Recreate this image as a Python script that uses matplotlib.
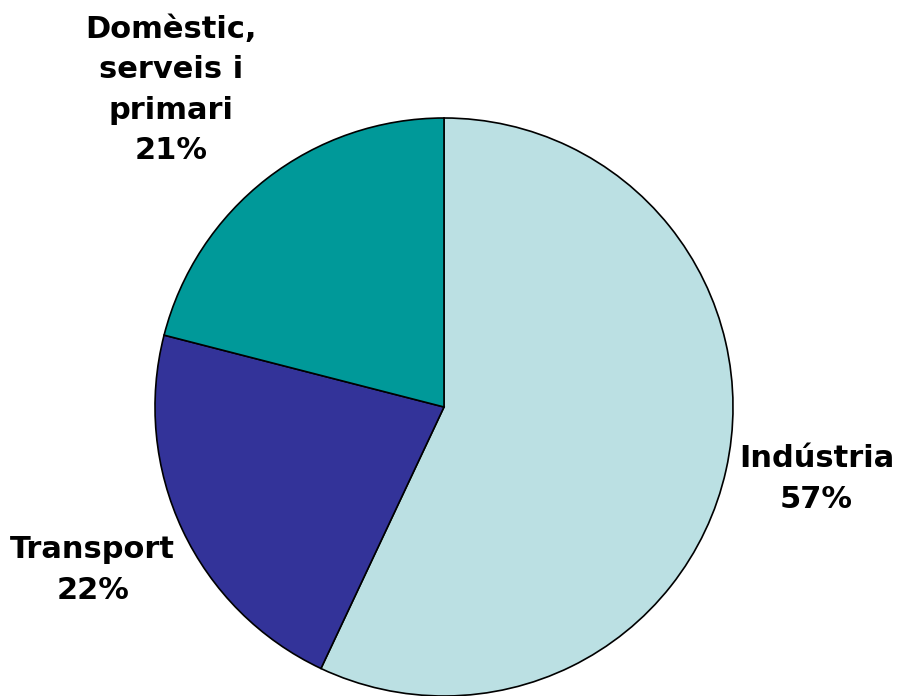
import matplotlib.pyplot as plt

# ========= DATA =========
labels = ["Indústria", "Transport", "Domèstic,\nserveis i\nprimari"]
shares = [57, 22, 21]
colors = ["#BBE0E3", "#333399", "#009999"]
# label centres, in pie radii from the centre
label_xy = [(1.289, -0.249), (-1.216, -0.564), (-0.945, 1.097)]
# ========================

fig = plt.figure(figsize=(8.99, 6.96), dpi=100)
# pie centre ~ (444, 407) px, radius ~289 px
W, H = 899, 696
cx, cy, r = 444, 407, 289
ax = fig.add_axes([(cx - r) / W, (H - cy - r) / H, 2 * r / W, 2 * r / H])

wedges, _ = ax.pie(shares, colors=colors, startangle=90, counterclock=False,
                   wedgeprops=dict(edgecolor="black", linewidth=1.2))
ax.set_xlim(-1, 1)
ax.set_ylim(-1, 1)
ax.set_aspect("equal")
ax.axis("off")

for lab, val, (x, y) in zip(labels, shares, label_xy):
    ax.text(x, y, f"{lab}\n{val}%",
            ha="center", va="center", fontsize=22, fontweight="bold",
            linespacing=1.5, clip_on=False)

fig.savefig("out.png", dpi=100)
